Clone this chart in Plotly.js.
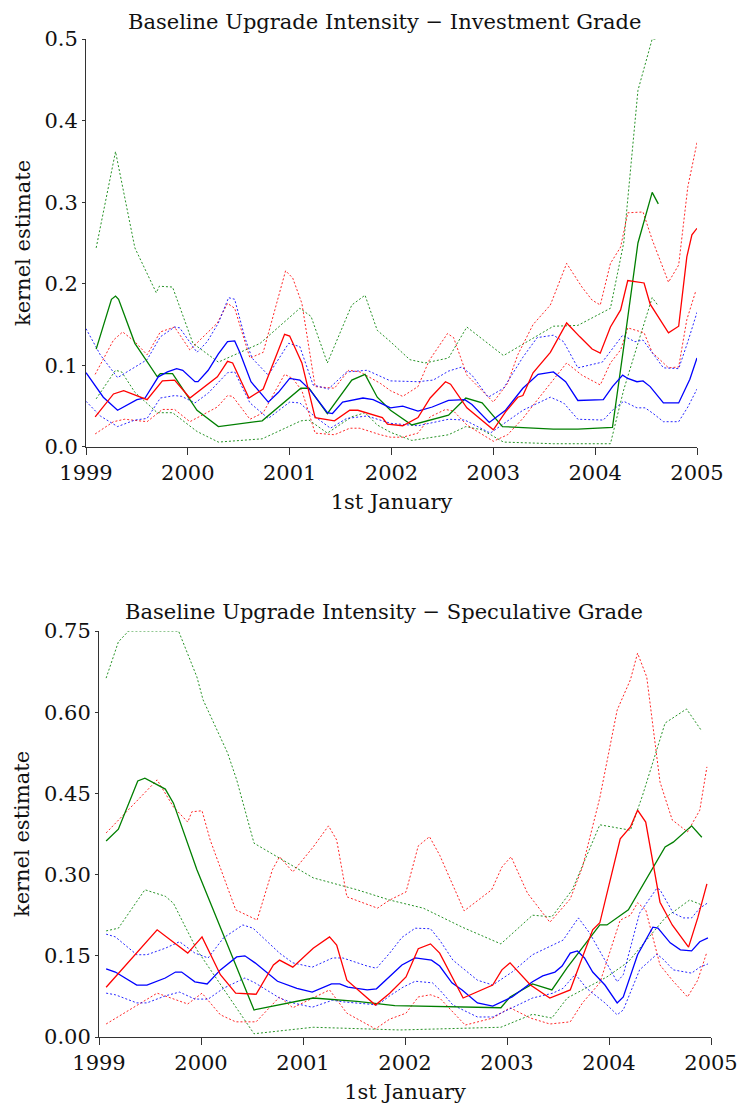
<!DOCTYPE html>
<html>
<head>
<meta charset="utf-8">
<script src="https://cdn.plot.ly/plotly-3.0.1.min.js"></script>
<style>html,body{margin:0;padding:0;background:#fff;}#chart{width:738px;height:1105px;}</style>
</head>
<body>
<div id="chart"></div>
<script>
// ---------- Investment Grade (top panel) ----------
const igGreenHiX = [1999.10,1999.29,1999.48,1999.69,1999.72,1999.85,2000.05,2000.30,2000.71,2001.10,2001.21,2001.37,2001.61,2001.74,2001.86,2001.99,2002.18,2002.33,2002.56,2002.74,2003.10,2003.36,2003.59,2003.83,2004.15,2004.28,2004.42,2004.56,2004.61];
const igGreenHi  = [0.244,0.362,0.244,0.189,0.197,0.196,0.127,0.104,0.127,0.170,0.160,0.103,0.174,0.186,0.143,0.129,0.107,0.103,0.109,0.147,0.112,0.131,0.148,0.149,0.170,0.250,0.437,0.500,0.500];
const igGreenX = [1999.10,1999.25,1999.29,1999.32,1999.48,1999.70,1999.73,1999.85,2000.09,2000.30,2000.73,2001.11,2001.19,2001.37,2001.61,2001.74,2001.86,2001.99,2002.20,2002.56,2002.73,2002.89,2003.09,2003.59,2003.83,2004.17,2004.28,2004.42,2004.56,2004.62];
const igGreen  = [0.120,0.181,0.185,0.181,0.127,0.086,0.090,0.090,0.045,0.025,0.032,0.072,0.072,0.041,0.082,0.089,0.061,0.045,0.027,0.039,0.060,0.054,0.025,0.022,0.022,0.024,0.122,0.250,0.312,0.298];
const igGreenLoX = [1999.10,1999.29,1999.35,1999.48,1999.70,1999.85,2000.09,2000.30,2000.73,2001.11,2001.19,2001.37,2001.61,2001.74,2001.86,2001.99,2002.20,2002.56,2002.73,2002.89,2003.10,2003.59,2004.15,2004.28,2004.42,2004.56,2004.62];
const igGreenLo  = [0.059,0.094,0.092,0.067,0.042,0.042,0.019,0.006,0.010,0.032,0.033,0.017,0.037,0.042,0.027,0.018,0.008,0.015,0.025,0.021,0.006,0.004,0.004,0.070,0.127,0.183,0.173];

const igRedX = [1999.09,1999.27,1999.37,1999.60,1999.75,1999.87,2000.02,2000.29,2000.39,2000.44,2000.60,2000.74,2000.95,2001.00,2001.12,2001.25,2001.44,2001.59,2001.67,2001.91,2001.96,2002.11,2002.26,2002.38,2002.53,2002.58,2002.74,2003.00,2003.12,2003.24,2003.29,2003.39,2003.56,2003.72,2003.85,2003.97,2004.05,2004.15,2004.25,2004.32,2004.48,2004.54,2004.72,2004.82,2004.90,2004.95,2005.00];
const igRed  = [0.037,0.065,0.069,0.058,0.081,0.082,0.060,0.086,0.105,0.103,0.060,0.071,0.138,0.136,0.103,0.036,0.032,0.045,0.045,0.036,0.028,0.026,0.036,0.060,0.080,0.077,0.048,0.021,0.043,0.061,0.063,0.091,0.116,0.152,0.135,0.120,0.115,0.147,0.168,0.204,0.201,0.175,0.140,0.148,0.233,0.260,0.268];
const igRedHiX = [1999.09,1999.27,1999.36,1999.48,1999.60,1999.73,1999.87,1999.99,2000.02,2000.29,2000.39,2000.46,2000.61,2000.74,2000.96,2001.03,2001.12,2001.25,2001.44,2001.58,2001.69,2001.89,2001.99,2002.11,2002.26,2002.37,2002.55,2002.61,2002.74,2003.00,2003.14,2003.24,2003.39,2003.56,2003.72,2003.87,2003.97,2004.05,2004.15,2004.25,2004.32,2004.47,2004.56,2004.72,2004.82,2004.91,2005.00];
const igRedHi  = [0.089,0.131,0.141,0.129,0.113,0.141,0.147,0.125,0.119,0.152,0.176,0.170,0.109,0.116,0.216,0.207,0.176,0.074,0.072,0.094,0.092,0.078,0.069,0.062,0.074,0.106,0.139,0.134,0.088,0.055,0.078,0.113,0.150,0.174,0.225,0.196,0.180,0.174,0.225,0.245,0.287,0.288,0.254,0.202,0.223,0.319,0.373];
const igRedLoX = [1999.09,1999.27,1999.38,1999.60,1999.75,1999.87,2000.02,2000.29,2000.39,2000.44,2000.61,2000.74,2000.95,2001.03,2001.12,2001.25,2001.44,2001.59,2001.69,2001.89,2001.99,2002.11,2002.26,2002.38,2002.53,2002.61,2002.74,2003.00,2003.14,2003.29,2003.39,2003.56,2003.72,2003.87,2004.05,2004.15,2004.25,2004.32,2004.48,2004.56,2004.72,2004.82,2004.90,2004.99];
const igRedLo  = [0.016,0.031,0.034,0.031,0.046,0.046,0.031,0.049,0.063,0.062,0.034,0.042,0.089,0.084,0.069,0.017,0.015,0.023,0.023,0.015,0.012,0.012,0.017,0.037,0.046,0.044,0.027,0.007,0.015,0.035,0.051,0.078,0.103,0.088,0.076,0.103,0.119,0.146,0.140,0.116,0.097,0.098,0.156,0.192];

const igBlueX = [1999.00,1999.07,1999.17,1999.31,1999.50,1999.58,1999.71,1999.80,1999.89,1999.95,2000.07,2000.10,2000.20,2000.30,2000.39,2000.46,2000.51,2000.62,2000.79,2000.89,2001.00,2001.10,2001.20,2001.37,2001.42,2001.52,2001.66,2001.72,2001.82,2001.99,2002.11,2002.26,2002.40,2002.56,2002.72,2002.79,2002.96,2003.12,2003.29,2003.44,2003.59,2003.71,2003.83,2004.08,2004.17,2004.27,2004.32,2004.41,2004.47,2004.54,2004.67,2004.82,2004.93,2005.00];
const igBlue  = [0.091,0.078,0.061,0.045,0.058,0.060,0.086,0.092,0.096,0.094,0.080,0.080,0.094,0.114,0.129,0.130,0.116,0.080,0.055,0.067,0.084,0.082,0.070,0.042,0.041,0.055,0.058,0.060,0.058,0.048,0.050,0.044,0.049,0.057,0.058,0.052,0.030,0.045,0.072,0.089,0.092,0.080,0.057,0.058,0.074,0.088,0.084,0.080,0.081,0.074,0.054,0.054,0.083,0.109];
const igBlueHiX = [1999.00,1999.14,1999.31,1999.48,1999.60,1999.73,1999.87,1999.92,2000.09,2000.19,2000.30,2000.40,2000.46,2000.56,2000.63,2000.79,2000.99,2001.10,2001.23,2001.38,2001.56,2001.76,2001.99,2002.26,2002.41,2002.56,2002.69,2002.79,2002.95,2003.10,2003.29,2003.43,2003.59,2003.69,2003.83,2004.07,2004.17,2004.27,2004.39,2004.47,2004.54,2004.67,2004.82,2004.91,2005.00];
const igBlueHi  = [0.145,0.113,0.085,0.098,0.107,0.135,0.147,0.146,0.116,0.129,0.152,0.183,0.181,0.134,0.109,0.088,0.127,0.123,0.076,0.071,0.092,0.094,0.081,0.080,0.082,0.093,0.098,0.088,0.061,0.072,0.110,0.134,0.137,0.129,0.097,0.104,0.120,0.137,0.129,0.131,0.119,0.097,0.096,0.129,0.165];
const igBlueLoX = [1999.00,1999.14,1999.31,1999.48,1999.60,1999.73,1999.87,1999.94,2000.07,2000.20,2000.39,2000.46,2000.61,2000.79,2001.00,2001.10,2001.23,2001.40,2001.56,2001.76,2001.99,2002.26,2002.56,2002.72,2002.97,2003.29,2003.56,2003.69,2003.83,2004.08,2004.17,2004.28,2004.41,2004.49,2004.57,2004.67,2004.82,2004.91,2005.00];
const igBlueLo  = [0.056,0.038,0.025,0.033,0.035,0.060,0.063,0.062,0.054,0.066,0.091,0.092,0.054,0.035,0.055,0.054,0.039,0.023,0.035,0.038,0.029,0.026,0.034,0.033,0.017,0.045,0.061,0.054,0.034,0.033,0.045,0.056,0.048,0.048,0.041,0.031,0.031,0.049,0.071];

// ---------- Speculative Grade (bottom panel) ----------
const sgGreenHiX = [1999.07,1999.19,1999.29,1999.78,1999.96,2000.02,2000.26,2000.35,2000.52,2000.77,2001.10,2001.53,2001.85,2002.18,2002.56,2002.94,2003.25,2003.44,2003.64,2003.91,2004.21,2004.33,2004.55,2004.76,2004.91];
const sgGreenHi  = [0.663,0.730,0.750,0.750,0.665,0.623,0.525,0.475,0.358,0.331,0.294,0.272,0.253,0.238,0.203,0.172,0.225,0.222,0.272,0.392,0.382,0.447,0.580,0.606,0.565];
const sgGreenX = [1999.07,1999.19,1999.38,1999.45,1999.65,1999.73,1999.96,2000.52,2001.10,2001.53,2001.90,2002.94,2003.03,2003.25,2003.44,2003.59,2003.91,2003.98,2004.19,2004.55,2004.63,2004.81,2004.91];
const sgGreen  = [0.362,0.384,0.473,0.478,0.458,0.432,0.309,0.050,0.072,0.066,0.058,0.054,0.074,0.098,0.087,0.128,0.207,0.207,0.235,0.351,0.360,0.390,0.369];
const sgGreenLoX = [1999.07,1999.19,1999.45,1999.65,1999.73,1999.96,2000.52,2001.10,2001.95,2002.94,2003.25,2003.44,2003.59,2003.98,2004.19,2004.55,2004.79,2004.91];
const sgGreenLo  = [0.196,0.201,0.272,0.260,0.247,0.161,0.006,0.018,0.013,0.018,0.042,0.035,0.072,0.111,0.139,0.220,0.253,0.244];

const sgRedX = [1999.07,1999.57,1999.87,2000.01,2000.19,2000.34,2000.54,2000.71,2000.77,2000.90,2001.10,2001.22,2001.26,2001.33,2001.43,2001.71,2001.85,2002.01,2002.13,2002.25,2002.34,2002.57,2002.86,2002.95,2003.03,2003.23,2003.42,2003.62,2003.74,2003.84,2003.91,2004.11,2004.21,2004.28,2004.36,2004.50,2004.62,2004.78,2004.87,2004.96];
const sgRed  = [0.092,0.198,0.155,0.185,0.115,0.081,0.079,0.133,0.142,0.129,0.164,0.181,0.185,0.170,0.105,0.059,0.081,0.111,0.163,0.172,0.155,0.072,0.096,0.124,0.137,0.096,0.072,0.087,0.148,0.198,0.211,0.366,0.388,0.419,0.397,0.249,0.207,0.166,0.220,0.283];
const sgRedHiX = [1999.07,1999.57,1999.73,1999.87,1999.91,2000.01,2000.09,2000.34,2000.55,2000.70,2000.77,2000.90,2001.10,2001.25,2001.33,2001.43,2001.73,2001.85,2002.01,2002.13,2002.24,2002.34,2002.58,2002.85,2002.95,2003.04,2003.20,2003.42,2003.62,2003.74,2003.91,2004.08,2004.21,2004.28,2004.37,2004.50,2004.62,2004.77,2004.89,2004.96];
const sgRedHi  = [0.377,0.475,0.425,0.397,0.416,0.418,0.364,0.235,0.216,0.309,0.333,0.305,0.351,0.390,0.364,0.259,0.238,0.253,0.268,0.353,0.370,0.336,0.233,0.272,0.314,0.333,0.266,0.212,0.255,0.314,0.442,0.604,0.660,0.709,0.665,0.471,0.401,0.379,0.419,0.499];
const sgRedLoX = [1999.07,1999.57,1999.87,2000.01,2000.19,2000.34,2000.54,2000.77,2000.90,2001.10,2001.26,2001.43,2001.71,2001.85,2002.01,2002.13,2002.25,2002.34,2002.59,2002.86,2003.03,2003.23,2003.42,2003.62,2003.74,2003.91,2004.11,2004.21,2004.28,2004.36,2004.50,2004.62,2004.77,2004.87,2004.96];
const sgRedLo  = [0.024,0.081,0.061,0.081,0.041,0.028,0.028,0.074,0.054,0.072,0.087,0.044,0.015,0.033,0.044,0.074,0.078,0.072,0.022,0.035,0.054,0.035,0.024,0.028,0.063,0.100,0.216,0.225,0.248,0.235,0.133,0.105,0.074,0.105,0.157];

const sgBlueX = [1999.07,1999.16,1999.37,1999.47,1999.65,1999.75,1999.81,1999.94,2000.06,2000.19,2000.35,2000.43,2000.53,2000.75,2000.94,2001.09,2001.28,2001.36,2001.44,2001.63,2001.72,2001.85,2001.97,2002.10,2002.22,2002.26,2002.34,2002.46,2002.56,2002.71,2002.86,2003.05,2003.25,2003.35,2003.47,2003.54,2003.62,2003.69,2003.76,2003.84,2003.96,2004.08,2004.14,2004.28,2004.43,2004.48,2004.60,2004.70,2004.81,2004.89,2004.97];
const sgBlue  = [0.126,0.120,0.096,0.096,0.109,0.120,0.120,0.102,0.098,0.124,0.148,0.150,0.137,0.103,0.090,0.083,0.098,0.098,0.092,0.087,0.089,0.111,0.133,0.146,0.144,0.142,0.131,0.100,0.087,0.063,0.057,0.074,0.102,0.113,0.120,0.131,0.155,0.159,0.146,0.120,0.096,0.063,0.074,0.152,0.203,0.201,0.174,0.161,0.159,0.176,0.183];
const sgBlueHiX = [1999.07,1999.16,1999.37,1999.47,1999.65,1999.79,1999.94,2000.07,2000.22,2000.41,2000.51,2000.77,2000.90,2001.09,2001.29,2001.39,2001.63,2001.72,2001.85,2001.97,2002.10,2002.25,2002.34,2002.47,2002.71,2002.86,2003.05,2003.25,2003.45,2003.55,2003.70,2003.81,2003.96,2004.08,2004.14,2004.30,2004.47,2004.50,2004.63,2004.73,2004.81,2004.89,2004.97];
const sgBlueHi  = [0.190,0.185,0.152,0.152,0.164,0.176,0.155,0.146,0.183,0.207,0.201,0.155,0.137,0.129,0.146,0.146,0.131,0.127,0.155,0.184,0.201,0.200,0.179,0.142,0.105,0.096,0.120,0.152,0.170,0.179,0.220,0.192,0.142,0.102,0.115,0.229,0.275,0.272,0.229,0.220,0.220,0.238,0.248];
const sgBlueLoX = [1999.07,1999.16,1999.37,1999.47,1999.65,1999.79,1999.94,2000.07,2000.22,2000.43,2000.53,2000.77,2000.90,2001.09,2001.29,2001.39,2001.63,2001.73,2001.85,2001.98,2002.10,2002.27,2002.34,2002.47,2002.71,2002.86,2003.05,2003.25,2003.45,2003.55,2003.67,2003.78,2003.96,2004.08,2004.14,2004.30,2004.47,2004.53,2004.63,2004.81,2004.89,2004.97];
const sgBlueLo  = [0.081,0.078,0.063,0.063,0.076,0.083,0.070,0.070,0.090,0.109,0.100,0.072,0.063,0.055,0.068,0.065,0.061,0.059,0.076,0.092,0.103,0.100,0.087,0.059,0.037,0.037,0.054,0.072,0.081,0.090,0.116,0.090,0.063,0.041,0.050,0.124,0.153,0.144,0.124,0.118,0.129,0.135];

// ---------- Axis ticks and titles ----------
const yearTicks = [1999, 2000, 2001, 2002, 2003, 2004, 2005];
const yearLabels = ['1999', '2000', '2001', '2002', '2003', '2004', '2005'];
const igTicks = [0, 0.1, 0.2, 0.3, 0.4, 0.5];
const igTickLabels = ['0.0', '0.1', '0.2', '0.3', '0.4', '0.5'];
const sgTicks = [0, 0.15, 0.30, 0.45, 0.60, 0.75];
const sgTickLabels = ['0.00', '0.15', '0.30', '0.45', '0.60', '0.75'];
const titleTop = 'Baseline Upgrade Intensity \u2212 Investment Grade';
const titleBottom = 'Baseline Upgrade Intensity \u2212 Speculative Grade';

const RED = '#ff0000', BLUE = '#0000ff', GREEN = '#007f00';
const FONT = 'DejaVu Serif, serif';

function band(x, y, color, xa, ya) {
  return {x: x, y: y, xaxis: xa, yaxis: ya, type: 'scatter', mode: 'lines',
          line: {color: color, width: 1, dash: '2px,2px'}, opacity: 0.85, hoverinfo: 'skip'};
}
function mid(x, y, color, xa, ya) {
  return {x: x, y: y, xaxis: xa, yaxis: ya, type: 'scatter', mode: 'lines',
          line: {color: color, width: 1.3}, hoverinfo: 'skip'};
}

const data = [
  band(igGreenHiX, igGreenHi, GREEN, 'x', 'y'),
  band(igGreenLoX, igGreenLo, GREEN, 'x', 'y'),
  band(igRedHiX, igRedHi, RED, 'x', 'y'),
  band(igRedLoX, igRedLo, RED, 'x', 'y'),
  band(igBlueHiX, igBlueHi, BLUE, 'x', 'y'),
  band(igBlueLoX, igBlueLo, BLUE, 'x', 'y'),
  mid(igGreenX, igGreen, GREEN, 'x', 'y'),
  mid(igBlueX, igBlue, BLUE, 'x', 'y'),
  mid(igRedX, igRed, RED, 'x', 'y'),

  band(sgGreenHiX, sgGreenHi, GREEN, 'x2', 'y2'),
  band(sgGreenLoX, sgGreenLo, GREEN, 'x2', 'y2'),
  band(sgRedHiX, sgRedHi, RED, 'x2', 'y2'),
  band(sgRedLoX, sgRedLo, RED, 'x2', 'y2'),
  band(sgBlueHiX, sgBlueHi, BLUE, 'x2', 'y2'),
  band(sgBlueLoX, sgBlueLo, BLUE, 'x2', 'y2'),
  mid(sgGreenX, sgGreen, GREEN, 'x2', 'y2'),
  mid(sgBlueX, sgBlue, BLUE, 'x2', 'y2'),
  mid(sgRedX, sgRed, RED, 'x2', 'y2')
];

const xBase = {
  range: [1999, 2005], tickmode: 'array', tickvals: yearTicks, ticktext: yearLabels,
  showline: true, linecolor: '#333', linewidth: 1, ticks: 'outside', ticklen: 7,
  tickcolor: '#333', showgrid: false, zeroline: false, fixedrange: true,
  tickfont: {family: FONT, size: 21, color: '#111'},
  title: {text: '1st January', font: {family: FONT, size: 21, color: '#111'}, standoff: 10}
};
const yBase = {
  showline: true, linecolor: '#333', linewidth: 1, ticks: 'outside', ticklen: 3,
  tickcolor: '#333', showgrid: false, zeroline: false, fixedrange: true,
  tickfont: {family: FONT, size: 21, color: '#111'},
  title: {text: 'kernel estimate', font: {family: FONT, size: 21, color: '#111'}, standoff: 8}
};

const layout = {
  width: 738, height: 1105,
  margin: {l: 86, r: 27, t: 39, b: 68},
  paper_bgcolor: '#fff', plot_bgcolor: '#fff',
  showlegend: false,
  font: {family: FONT, color: '#111'},
  xaxis: Object.assign({}, xBase, {domain: [0, 0.9776], anchor: 'y'}),
  yaxis: Object.assign({}, yBase, {domain: [0.5912, 1], anchor: 'x', range: [0, 0.5],
                                   tickmode: 'array', tickvals: igTicks, ticktext: igTickLabels}),
  xaxis2: Object.assign({}, xBase, {domain: [0.0208, 1], anchor: 'y2'}),
  yaxis2: Object.assign({}, yBase, {domain: [0, 0.4068], anchor: 'x2', range: [0, 0.75],
                                    tickmode: 'array', tickvals: sgTicks, ticktext: sgTickLabels}),
  annotations: [
    {text: titleTop, xref: 'paper', yref: 'paper', x: 0.477, y: 1.017, xanchor: 'center', yanchor: 'middle',
     showarrow: false, font: {family: FONT, size: 21, color: '#111'}},
    {text: titleBottom, xref: 'paper', yref: 'paper', x: 0.477, y: 0.426, xanchor: 'center', yanchor: 'middle',
     showarrow: false, font: {family: FONT, size: 21, color: '#111'}}
  ]
};

Plotly.newPlot('chart', data, layout, {displayModeBar: false, staticPlot: true});
</script>
</body>
</html>
